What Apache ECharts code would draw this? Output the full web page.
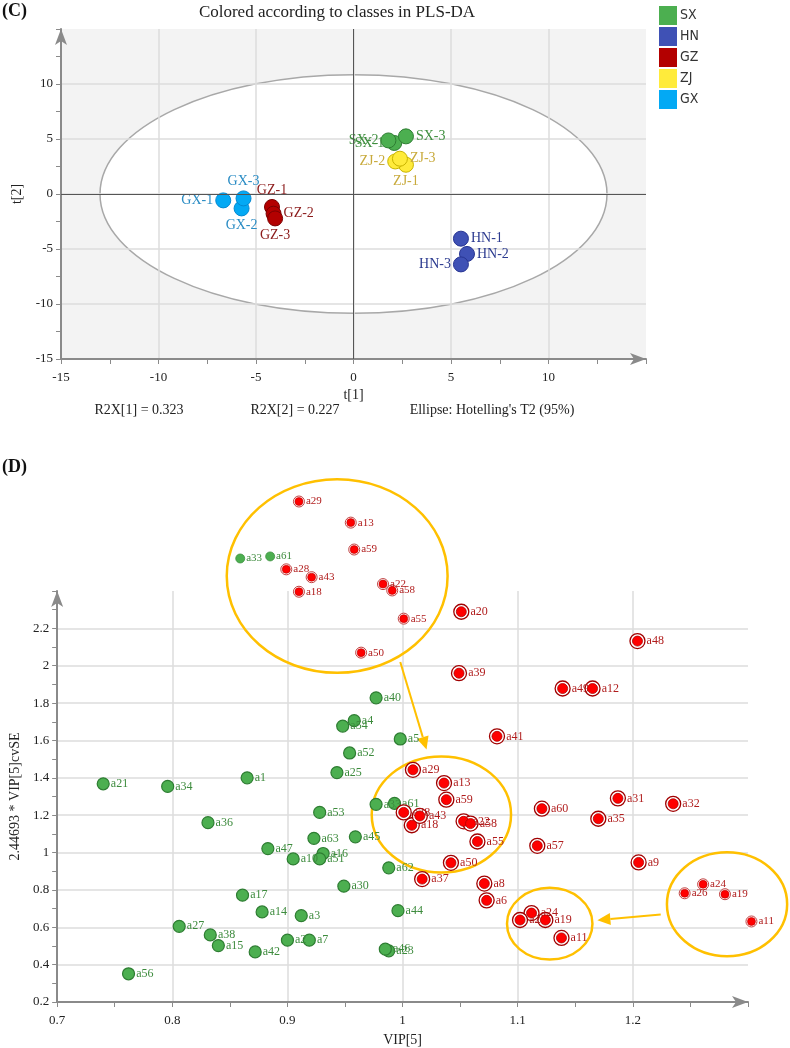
<!DOCTYPE html>
<html><head><meta charset="utf-8">
<script src="https://cdn.jsdelivr.net/npm/echarts@6/dist/echarts.min.js"></script>
<style>html,body{margin:0;padding:0;background:#fff}#c{width:790px;height:1048px}</style>
</head><body><div id="c"></div>
<script>
// ---------- Panel C : PLS-DA scores ----------
const classes = ['SX', 'HN', 'GZ', 'ZJ', 'GX'];
const SX_t1 = [2.09, 1.79, 2.69];
const SX_t2 = [4.64, 4.87, 5.24];
const HN_t1 = [5.51, 5.82, 5.51];
const HN_t2 = [-4.06, -5.45, -6.40];
const GZ_t1 = [-4.18, -4.10, -4.02];
const GZ_t2 = [-1.18, -1.79, -2.22];
const ZJ_t1 = [2.69, 2.14, 2.38];
const ZJ_t2 = [2.66, 2.96, 3.21];
const GX_t1 = [-6.68, -5.74, -5.64];
const GX_t2 = [-0.58, -1.31, -0.40];
const ellipseSemiAxes = [13.0, 10.85];   // Hotelling's T2 (95%)
const xTicksC = [-15, 15, 5];
const yTicksC = [-15, 15, 5];

// ---------- Panel D : VIP vs 2.44693*VIP cvSE ----------
const greenNames = ['a1','a2','a3','a4','a5','a7','a10','a14','a15','a16','a17','a21','a23','a25','a27','a30','a33','a34','a36','a38','a40','a42','a44','a45','a46','a47','a51','a52','a53','a54','a56','a61','a62','a63'];
const greenVIP   = [0.865,0.900,0.912,0.958,0.998,0.919,0.905,0.878,0.840,0.931,0.861,0.740,0.988,0.943,0.806,0.949,0.977,0.796,0.831,0.833,0.977,0.872,0.996,0.959,0.985,0.883,0.928,0.954,0.928,0.948,0.762,0.993,0.988,0.923];
const greenSE    = [1.400,0.531,0.662,1.706,1.608,0.531,0.966,0.682,0.502,0.995,0.772,1.368,0.474,1.428,0.605,0.820,1.258,1.354,1.160,0.559,1.828,0.468,0.689,1.084,0.483,1.021,0.966,1.533,1.215,1.677,0.351,1.263,0.918,1.076];

const redNames = ['a6','a8','a9','a11','a12','a13','a18','a19','a20','a22','a24','a26','a28','a29','a31','a32','a35','a37','a39','a41','a43','a48','a49','a50','a55','a57','a58','a59','a60'];
const redVIP   = [1.073,1.071,1.205,1.138,1.165,1.036,1.008,1.124,1.051,1.053,1.112,1.102,1.001,1.009,1.187,1.235,1.170,1.017,1.049,1.082,1.015,1.204,1.139,1.042,1.065,1.117,1.059,1.038,1.121];
const redSE    = [0.744,0.834,0.947,0.543,1.878,1.372,1.146,0.639,2.289,1.167,0.676,0.639,1.215,1.443,1.290,1.261,1.181,0.858,1.960,1.622,1.196,2.132,1.878,0.945,1.059,1.036,1.155,1.283,1.235];

// magnified call-out copies
const zoomRedNames = ['a29','a13','a59','a28','a43','a18','a22','a58','a55','a50','a24','a26','a19','a11'];
const zoomRedVIP   = [0.910,0.955,0.958,0.899,0.921,0.910,0.983,0.991,1.001,0.964,1.261,1.245,1.280,1.303];
const zoomRedSE    = [2.879,2.766,2.622,2.516,2.474,2.396,2.437,2.403,2.252,2.070,0.830,0.782,0.777,0.631];
const zoomGreenNames = ['a33','a61'];
const zoomGreenVIP   = [0.859,0.885];
const zoomGreenSE    = [2.574,2.585];

// call-out ellipses [cx, cy, rx, ry] and arrows [x1, y1, x2, y2] in axis units
const calloutEllipses = [[0.9432,2.48,0.0959,0.518],[1.0337,1.2037,0.0605,0.311],[1.1278,0.619,0.0371,0.192],[1.2818,0.7232,0.0522,0.278]];
const calloutArrows = [[0.998,2.02,1.0208,1.551],[1.2242,0.668,1.1692,0.638]];
const xTicksD = [0.7, 1.3, 0.1];
const yTicksD = [0.2, 2.4, 0.2];

// ---------- styles ----------
const serif = '"Liberation Serif", "Times New Roman", serif';
const narrow = '"Liberation Sans Narrow", "DejaVu Sans Condensed", sans-serif';
const axisGrey = '#8a8a8a';
const classStyle = {
  SX: {fill:'#4caf50', border:'#2e7d32', text:'#3f8f3f', pos:['left','left','right']},
  HN: {fill:'#3f51b5', border:'#283593', text:'#2b3a8f', pos:['right','right','left']},
  GZ: {fill:'#b30000', border:'#7a0000', text:'#8b1a1a', pos:['top','right','bottom']},
  ZJ: {fill:'#ffeb3b', border:'#c9b400', text:'#c8aa3c', pos:['bottom','left','right']},
  GX: {fill:'#03a9f4', border:'#0288d1', text:'#2a8cc4', pos:['left','bottom','top']}
};
const classData = {SX:[SX_t1,SX_t2], HN:[HN_t1,HN_t2], GZ:[GZ_t1,GZ_t2], ZJ:[ZJ_t1,ZJ_t2], GX:[GX_t1,GX_t2]};

function valueAxis(grid, ticks, name, gap, labelMargin, rotate) {
  return {
    gridIndex: grid, type: 'value', min: ticks[0], max: ticks[1], interval: ticks[2],
    name: name, nameLocation: 'middle', nameGap: gap, nameRotate: rotate,
    nameTextStyle: {fontFamily: serif, fontSize: 14, color: '#222'},
    axisLine: {show: true, onZero: false, symbol: ['none', 'arrow'], symbolSize: [9, 16],
      lineStyle: {color: axisGrey, width: 2}},
    axisTick: {show: true, length: 5, lineStyle: {color: axisGrey, width: 1}},
    minorTick: {show: true, splitNumber: 2, length: 5, lineStyle: {color: axisGrey, width: 1}},
    axisLabel: {showMaxLabel: false, fontFamily: serif, fontSize: 13, color: '#222', margin: labelMargin},
    splitLine: {show: true, showMinLine: false, showMaxLine: false, lineStyle: {color: '#dcdcdc', width: 1.5}}
  };
}

const series = [];
// Hotelling ellipse
series.push({
  type: 'custom', xAxisIndex: 0, yAxisIndex: 0, z: -1, silent: true, clip: false,
  data: [[0, 0]],
  renderItem: function (params, api) {
    const c = api.coord([0, 0]);
    const s = api.size([ellipseSemiAxes[0], ellipseSemiAxes[1]]);
    return {type: 'ellipse', shape: {cx: c[0], cy: c[1], rx: s[0], ry: s[1]},
      style: {fill: '#ffffff', stroke: '#a8a8a8', lineWidth: 1.5}};
  }
});
// zero lines
series.push({
  type: 'scatter', xAxisIndex: 0, yAxisIndex: 0, z: 1, symbolSize: 0, silent: true,
  data: [[0, 0]],
  markLine: {silent: true, symbol: 'none', label: {show: false}, animation: false,
    lineStyle: {color: '#555', width: 1, type: 'solid'},
    data: [{xAxis: 0}, {yAxis: 0}]}
});
classes.forEach(function (cl) {
  const st = classStyle[cl];
  const d = classData[cl];
  series.push({
    name: cl, type: 'scatter', xAxisIndex: 0, yAxisIndex: 0, z: 3,
    symbolSize: 15,
    itemStyle: {color: st.fill, borderColor: st.border, borderWidth: 1, opacity: 1},
    data: d[0].map(function (v, i) {
      return {name: cl + '-' + (i + 1), value: [v, d[1][i]],
        label: {position: st.pos[i]}};
    }),
    label: {show: true, formatter: '{b}', distance: 2, fontFamily: serif, fontSize: 14, color: st.text}
  });
});

// Panel D
function pts(names, xs, ys) { return names.map(function (n, i) { return {name: n, value: [xs[i], ys[i]]}; }); }

series.push({
  type: 'custom', xAxisIndex: 1, yAxisIndex: 1, z: 2, silent: true, clip: false,
  data: [[0.7, 0.2]],
  renderItem: function (params, api) {
    const children = [];
    calloutEllipses.forEach(function (e) {
      const c = api.coord([e[0], e[1]]);
      const s = api.size([e[2], e[3]]);
      children.push({type: 'ellipse', shape: {cx: c[0], cy: c[1], rx: s[0], ry: s[1]},
        style: {fill: null, stroke: '#FFC000', lineWidth: 2.5}});
    });
    calloutArrows.forEach(function (a) {
      const p1 = api.coord([a[0], a[1]]);
      const p2 = api.coord([a[2], a[3]]);
      const ang = Math.atan2(p2[1] - p1[1], p2[0] - p1[0]);
      const L = 13, W = 6;
      const bx = p2[0] - L * Math.cos(ang), by = p2[1] - L * Math.sin(ang);
      children.push({type: 'line', shape: {x1: p1[0], y1: p1[1], x2: bx, y2: by},
        style: {stroke: '#FFC000', lineWidth: 2}});
      children.push({type: 'polygon', shape: {points: [p2,
        [bx + W * Math.sin(ang), by - W * Math.cos(ang)],
        [bx - W * Math.sin(ang), by + W * Math.cos(ang)]]},
        style: {fill: '#FFC000'}});
    });
    return {type: 'group', children: children};
  }
});

const greenLabel = {show: true, position: 'right', distance: 1, formatter: '{b}', fontFamily: serif, fontSize: 12, color: '#3d8b3d'};
const redLabel = {show: true, position: 'right', distance: 1, formatter: '{b}', fontFamily: serif, fontSize: 12, color: '#b01c1c'};

series.push({
  type: 'scatter', xAxisIndex: 1, yAxisIndex: 1, z: 3, symbolSize: 12,
  itemStyle: {color: '#4caf50', borderColor: '#2e7d32', borderWidth: 1.2, opacity: 1},
  label: greenLabel, data: pts(greenNames, greenVIP, greenSE)
});
series.push({
  type: 'scatter', xAxisIndex: 1, yAxisIndex: 1, z: 4, symbolSize: 15,
  itemStyle: {color: '#ffffff', borderColor: '#a00000', borderWidth: 1.3, opacity: 1},
  label: redLabel, data: pts(redNames, redVIP, redSE)
});
series.push({
  type: 'scatter', xAxisIndex: 1, yAxisIndex: 1, z: 5, symbolSize: 10,
  itemStyle: {color: '#ff0000', borderColor: '#b00000', borderWidth: 0.8, opacity: 1},
  data: pts(redNames, redVIP, redSE)
});
// call-out copies
series.push({
  type: 'scatter', xAxisIndex: 1, yAxisIndex: 1, z: 4, symbolSize: 9, clip: false,
  itemStyle: {color: '#4caf50', borderColor: '#3d9140', borderWidth: 0.8, opacity: 1},
  label: Object.assign({}, greenLabel, {fontSize: 11}), data: pts(zoomGreenNames, zoomGreenVIP, zoomGreenSE)
});
series.push({
  type: 'scatter', xAxisIndex: 1, yAxisIndex: 1, z: 4, symbolSize: 11, clip: false,
  itemStyle: {color: '#ffffff', borderColor: '#c04040', borderWidth: 1, opacity: 1},
  label: Object.assign({}, redLabel, {fontSize: 11}), data: pts(zoomRedNames, zoomRedVIP, zoomRedSE)
});
series.push({
  type: 'scatter', xAxisIndex: 1, yAxisIndex: 1, z: 5, symbolSize: 8, clip: false,
  itemStyle: {color: '#ff0000', borderColor: '#c00000', borderWidth: 0.6, opacity: 1},
  data: pts(zoomRedNames, zoomRedVIP, zoomRedSE)
});

const option = {
  animation: false,
  backgroundColor: '#ffffff',
  grid: [
    {left: 61, top: 29, width: 585, height: 330, show: true, backgroundColor: '#f3f3f3', borderWidth: 0, z: -3},
    {left: 47, top: 591, width: 701, height: 412, show: false}
  ],
  xAxis: [
    valueAxis(0, xTicksC, 't[1]', 29, 12, 0),
    valueAxis(1, xTicksD, 'VIP[5]', 31, 12, 0)
  ],
  yAxis: [
    valueAxis(0, yTicksC, 't[2]', 32, 8, 90),
    valueAxis(1, yTicksD, '2.44693 * VIP[5]cvSE', 32, 8, 90)
  ],
  legend: {
    data: classes, orient: 'vertical', left: 654, top: 1,
    itemWidth: 18, itemHeight: 19, itemGap: 2, icon: 'rect',
    itemStyle: {borderWidth: 0},
    textStyle: {fontFamily: narrow, fontSize: 14, color: '#333', padding: [0, 0, 0, -2]}
  },
  graphic: [
    {type: 'text', left: 2, top: 2, style: {text: '(C)', font: 'bold 18px ' + serif, fill: '#111'}},
    {type: 'text', x: 337, y: 13, style: {text: 'Colored according to classes in PLS-DA', font: '17px ' + serif, fill: '#222', textAlign: 'center', textVerticalAlign: 'middle'}},
    {type: 'text', x: 139, y: 410, style: {text: 'R2X[1] = 0.323', font: '14px ' + serif, fill: '#222', textAlign: 'center', textVerticalAlign: 'middle'}},
    {type: 'text', x: 295, y: 410, style: {text: 'R2X[2] = 0.227', font: '14px ' + serif, fill: '#222', textAlign: 'center', textVerticalAlign: 'middle'}},
    {type: 'text', x: 492, y: 410, style: {text: "Ellipse: Hotelling's T2 (95%)", font: '14px ' + serif, fill: '#222', textAlign: 'center', textVerticalAlign: 'middle'}},
    {type: 'text', left: 2, top: 458, style: {text: '(D)', font: 'bold 18px ' + serif, fill: '#111'}}
  ],
  series: series
};

const chart = echarts.init(document.getElementById('c'));
chart.setOption(option);
</script>
</body></html>
